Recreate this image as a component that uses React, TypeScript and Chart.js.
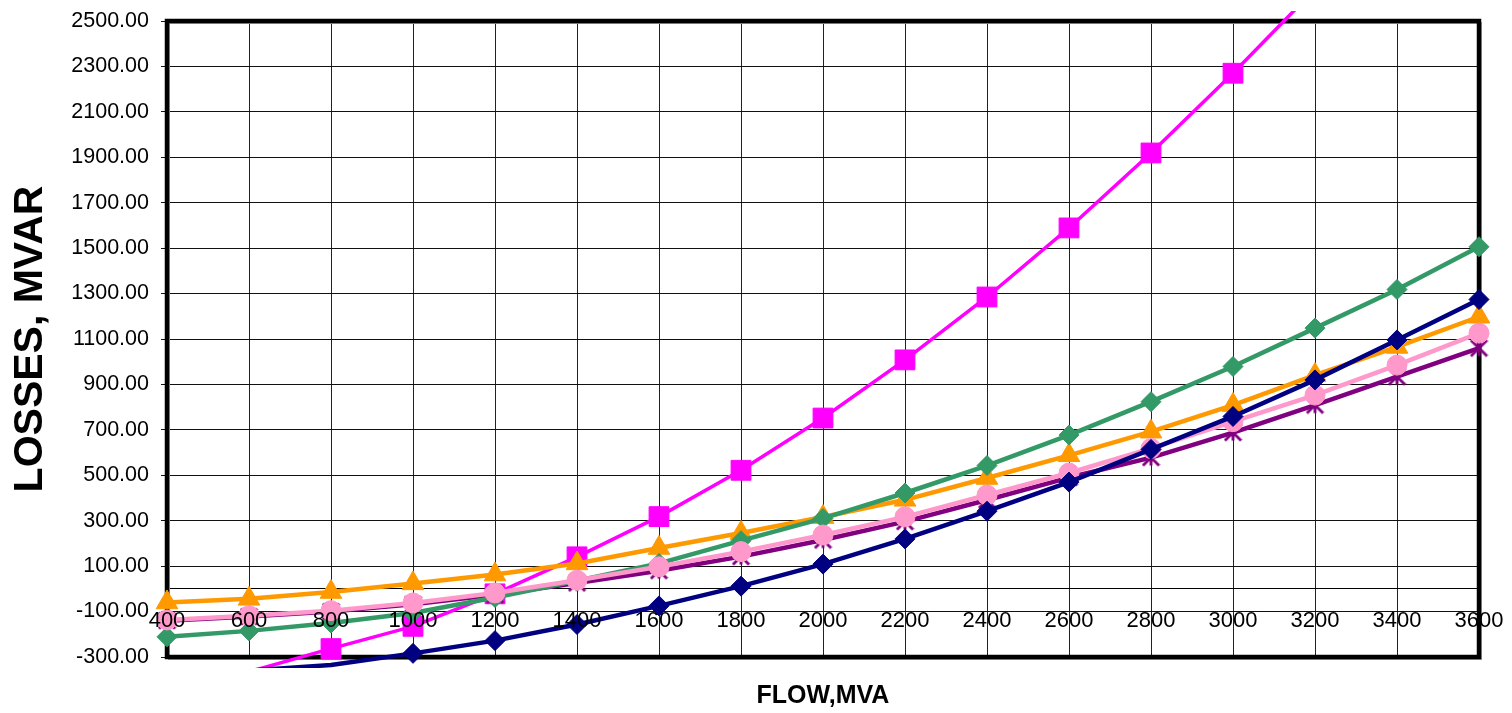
import React, { useEffect, useRef } from 'react';
import { Chart, registerables } from 'chart.js';

Chart.register(...registerables);

const categories = ['400', '600', '800', '1000', '1200', '1400', '1600', '1800', '2000', '2200', '2400', '2600', '2800', '3000', '3200', '3400', '3600'];
const yTickValues = [-300, -100, 100, 300, 500, 700, 900, 1100, 1300, 1500, 1700, 1900, 2100, 2300, 2500];

const navySeries = [-410, -360, -335, -284, -228, -157, -75, 12, 109, 220, 342, 470, 614, 759, 920, 1096, 1274];
const magentaSeries = [-440, -365, -263, -165, -22, 141, 318, 522, 752, 1008, 1285, 1589, 1919, 2270, 2640, 3030, 3450];
const greenSeries = [-211, -185, -150, -106, -38, 36, 112, 212, 310, 422, 543, 677, 824, 979, 1148, 1318, 1506];
const orangeSeries = [-60, -44, -14, 24, 63, 112, 180, 246, 316, 392, 488, 588, 692, 809, 941, 1065, 1198];
const pinkSeries = [-137, -118, -96, -62, -18, 38, 97, 164, 237, 317, 413, 510, 618, 736, 853, 985, 1126];
const purpleSeries = [-140, -122, -100, -68, -26, 26, 80, 142, 215, 296, 391, 490, 578, 688, 809, 934, 1060];

const Y_MIN = -300;
const Y_MAX = 2500;
const FONT = "'Liberation Sans', Arial, Helvetica, sans-serif";

function makeAsterisk(color: string, size: number, lw: number): HTMLCanvasElement {
  const c = document.createElement('canvas');
  c.width = size;
  c.height = size;
  const g = c.getContext('2d')!;
  const r = size / 2 - lw / 2;
  const m = size / 2;
  g.strokeStyle = color;
  g.lineWidth = lw;
  g.lineCap = 'butt';
  g.beginPath();
  g.moveTo(m - r, m - r);
  g.lineTo(m + r, m + r);
  g.moveTo(m - r, m + r);
  g.lineTo(m + r, m - r);
  g.moveTo(m, m - r);
  g.lineTo(m, m + r);
  g.stroke();
  return c;
}

const framePlugin = {
  id: 'plotFrame',
  beforeDatasetsDraw(chart: any) {
    const { ctx, chartArea: a } = chart;
    ctx.save();
    ctx.strokeStyle = '#a0a0a0';
    ctx.lineWidth = 2;
    ctx.strokeRect(a.left + 2, a.top + 2, a.right - a.left, a.bottom - a.top);
    ctx.strokeStyle = '#000000';
    ctx.lineWidth = 4.5;
    ctx.strokeRect(a.left, a.top, a.right - a.left, a.bottom - a.top);
    ctx.restore();
  },
};

export default function App() {
  const ref = useRef<HTMLCanvasElement>(null);

  useEffect(() => {
    if (!ref.current) return;
    const star = makeAsterisk('#800080', 19, 2.8);
    const hideOut = (r: number) => (ctx: any) => {
      const v = ctx.raw;
      return typeof v === 'number' && (v < Y_MIN || v > Y_MAX) ? 0 : r;
    };
    const ds = (label: string, data: number[], color: string, style: any, radius: number, width: number) => ({
      label,
      data,
      borderColor: color,
      backgroundColor: color,
      pointBackgroundColor: color,
      pointBorderColor: color,
      pointStyle: style,
      pointRadius: hideOut(radius),
      pointHoverRadius: hideOut(radius),
      pointBorderWidth: 1,
      borderWidth: width,
      borderJoinStyle: 'round',
      tension: 0,
      clip: { left: 14, right: 14, top: 10, bottom: 11 },
    });

    const chart = new Chart(ref.current, {
      type: 'line',
      data: {
        labels: categories,
        datasets: [
          ds('Navy', navySeries, '#000080', 'rectRot', 10, 4.5),
          ds('Pink', pinkSeries, '#FF99CC', 'circle', 10, 4.5),
          ds('Green', greenSeries, '#339966', 'rectRot', 10, 4.5),
          ds('Orange', orangeSeries, '#FF9900', 'triangle', 12.5, 4.5),
          ds('Purple', purpleSeries, '#800080', star, 9, 4.5),
          ds('Magenta', magentaSeries, '#FF00FF', 'rect', 14, 3.5),
        ] as any,
      },
      options: {
        responsive: false,
        animation: false,
        layout: { padding: { top: 21, right: 33, bottom: 2, left: 0 } },
        plugins: {
          legend: { display: false },
          tooltip: { enabled: false },
          title: {
            display: true,
            text: 'FLOW,MVA',
            position: 'bottom',
            fullSize: false,
            color: '#000000',
            font: { family: FONT, size: 25, weight: 'bold', lineHeight: 1.2 },
            padding: { top: 24, bottom: 0 },
          },
        },
        scales: {
          x: {
            type: 'category',
            position: { y: 0 } as any,
            offset: false,
            afterFit: (scale: any) => {
              scale.paddingLeft = 0;
              scale.paddingRight = 0;
              scale.paddingTop = 0;
              scale.paddingBottom = 0;
            },
            grid: { display: true, color: '#222222', lineWidth: 1, drawTicks: true, tickLength: 7 },
            border: { display: true, color: '#000000', width: 1 },
            ticks: {
              z: 1,
              autoSkip: false,
              maxRotation: 0,
              minRotation: 0,
              padding: 12,
              color: '#000000',
              font: { family: FONT, size: 22 },
            },
          },
          y: {
            type: 'linear',
            min: Y_MIN,
            max: Y_MAX,
            afterBuildTicks: (scale: any) => {
              scale.ticks = yTickValues.map((v) => ({ value: v }));
            },
            afterFit: (scale: any) => {
              scale.width = 167;
              scale.paddingTop = 0;
              scale.paddingBottom = 0;
              scale.paddingLeft = 0;
              scale.paddingRight = 0;
            },
            grid: { display: true, color: '#111111', lineWidth: 1, drawTicks: true, tickLength: 6 },
            border: { display: true, color: '#000000', width: 1 },
            ticks: {
              padding: 12,
              color: '#000000',
              font: { family: FONT, size: 21.5 },
              callback: (v: any) => Number(v).toFixed(2),
            },
            title: {
              display: true,
              text: 'LOSSES, MVAR',
              color: '#000000',
              font: { family: FONT, size: 41, weight: 'bold', lineHeight: 1.2 },
              padding: { top: 6, bottom: 0 },
            },
          },
        },
      },
      plugins: [framePlugin],
    } as any);

    return () => chart.destroy();
  }, []);

  return (
    <div style={{ position: 'fixed', left: 0, top: 0, width: 1512, height: 713, background: '#ffffff' }}>
      <canvas ref={ref} width={1512} height={713} style={{ display: 'block' }} />
    </div>
  );
}
